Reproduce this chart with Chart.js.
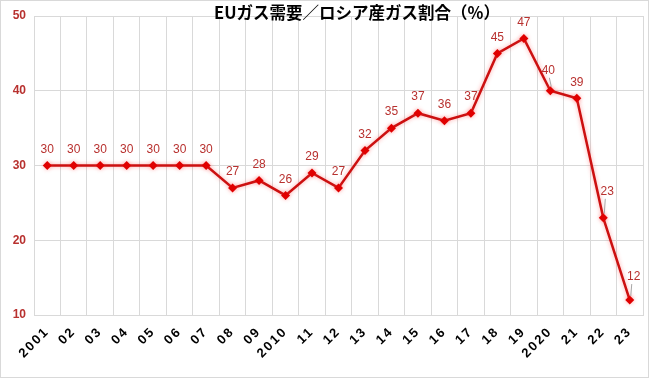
<!DOCTYPE html>
<html><head><meta charset="utf-8">
<script src="https://cdn.jsdelivr.net/npm/chart.js@4/dist/chart.umd.min.js"></script>
<style>html,body{margin:0;padding:0;background:#fff}#wrap{width:650px;height:383px}</style>
</head><body><div id="wrap"><canvas id="c" width="650" height="383"></canvas></div>
<script>
const title = 'EUガス需要／ロシア産ガス割合（%）';
const years = ['2001','02','03','04','05','06','07','08','09','2010','11','12','13','14','15','16','17','18','19','2020','21','22','23'];
const share = [30,30,30,30,30,30,30,27,28,26,29,27,32,35,37,36,37,45,47,40,39,23,12];
const yTicks = [10,20,30,40,50];
const leaderIdx = [19,21,22];

const labelPlugin = {
  id:'labels',
  afterDatasetsDraw(chart){
    const ctx = chart.ctx;
    const meta = chart.getDatasetMeta(0);
    ctx.save();
    ctx.font = '12px "Liberation Sans", Arial, sans-serif';
    ctx.fillStyle = '#b8312f';
    ctx.textAlign = 'center';
    ctx.textBaseline = 'middle';
    meta.data.forEach((pt,i)=>{
      let dx = 0, dy = -16;
      if (leaderIdx.includes(i)) {
        if (i===19) { dx = -2; dy = -20; }
        if (i===21) { dx = 4; dy = -26; }
        if (i===22) { dx = 4; dy = -23; }
        ctx.strokeStyle = '#a6a6a6'; ctx.lineWidth = 1;
        ctx.beginPath(); ctx.moveTo(pt.x+dx*0.5, pt.y+dy+7); ctx.lineTo(pt.x+1, pt.y-4); ctx.stroke();
      }
      ctx.fillText(String(share[i]), pt.x+dx, pt.y+dy);
    });
    ctx.restore();
  }
};
const framePlugin = {
  id:'frame',
  afterDraw(chart){
    const ctx = chart.ctx;
    ctx.save();
    ctx.strokeStyle = '#d9d9d9'; ctx.lineWidth = 1;
    ctx.strokeRect(0.5,0.5,648,377);
    ctx.font = 'bold 16.5px "Noto Sans CJK JP", sans-serif';
    ctx.fillStyle = '#000';
    ctx.textAlign = 'center'; ctx.textBaseline = 'middle';
    ctx.fillText(title, 357, 13);
    ctx.restore();
  }
};
const glowPlugin = {
  id:'glow',
  beforeDraw(chart){
    const x = chart.scales.x;
    if (!x._spaced) {
      const orig = Object.getPrototypeOf(x).drawLabels;
      x.drawLabels = function(area){ const c=this.ctx; c.save(); c.letterSpacing='2px'; orig.call(this, area); c.restore(); };
      x._spaced = true;
    }
  },
  beforeDatasetDraw(chart){ const c=chart.ctx; c.save(); c.shadowColor='rgba(255,60,60,0.45)'; c.shadowBlur=4; },
  afterDatasetDraw(chart){ chart.ctx.restore(); }
};

new Chart(document.getElementById('c'), {
  type:'line',
  data:{ labels: years, datasets:[{
    data: share,
    borderColor:'#cc1010', backgroundColor:'#e00000',
    borderWidth:2.5, tension:0,
    pointStyle:'rectRot', pointRadius:4.5, pointBorderWidth:0, pointBackgroundColor:'#e00000'
  }]},
  options:{
    responsive:false, animation:false,
    layout:{padding:{top:16,right:7,left:0,bottom:0}},
    plugins:{legend:{display:false}, title:{display:false}, tooltip:{enabled:false}},
    scales:{
      x:{
        offset:true,
        grid:{color:'#d9d9d9', offset:true, drawTicks:false},
        border:{color:'#d9d9d9'},
        ticks:{color:'#000', font:{family:'"Liberation Sans", Arial, sans-serif', size:13, weight:'bold'}, minRotation:45, maxRotation:45, padding:9, autoSkip:false},
        afterFit(s){ s.height = 68; }
      },
      y:{
        min:10, max:50,
        afterBuildTicks(s){ s.ticks = yTicks.map(v=>({value:v})); },
        grid:{color:'#d9d9d9', drawTicks:false},
        border:{display:false},
        ticks:{color:'#b8312f', font:{family:'"Liberation Sans", Arial, sans-serif', size:12, weight:'bold'}, padding:8},
        afterFit(s){ s.width = 34; }
      }
    }
  },
  plugins:[glowPlugin,labelPlugin,framePlugin]
});
</script></body></html>
